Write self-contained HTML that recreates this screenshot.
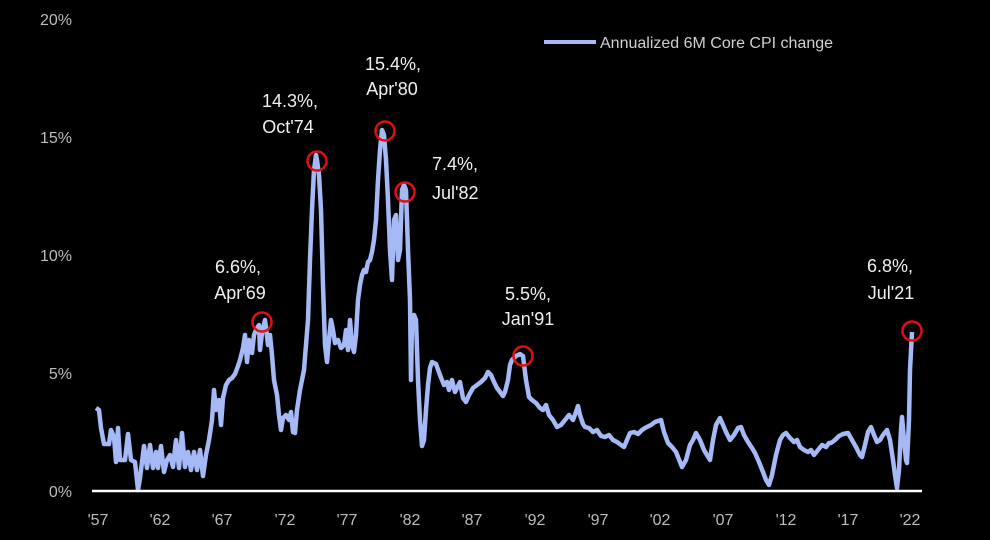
<!DOCTYPE html>
<html><head><meta charset="utf-8"><style>
html,body{margin:0;padding:0;background:#000;}
svg{display:block;}
text{font-family:"Liberation Sans",sans-serif;}
</style></head><body>
<svg width="990" height="540" viewBox="0 0 990 540" xmlns="http://www.w3.org/2000/svg">
<rect width="990" height="540" fill="#000"/>
<g fill="#bdbdbd" font-size="16" text-anchor="end">
<text x="72" y="25">20%</text>
<text x="72" y="143">15%</text>
<text x="72" y="261">10%</text>
<text x="72" y="379">5%</text>
<text x="72" y="497">0%</text>
</g>
<g fill="#bdbdbd" font-size="16" text-anchor="middle">
<text x="98" y="525">'57</text><text x="160" y="525">'62</text><text x="222" y="525">'67</text>
<text x="285" y="525">'72</text><text x="347" y="525">'77</text><text x="410" y="525">'82</text>
<text x="472" y="525">'87</text><text x="535" y="525">'92</text><text x="598" y="525">'97</text>
<text x="660" y="525">'02</text><text x="723" y="525">'07</text><text x="786" y="525">'12</text>
<text x="848" y="525">'17</text><text x="910" y="525">'22</text>
</g>
<polyline fill="none" stroke="#a4b9f5" stroke-width="4.5" stroke-linejoin="round" points="96,408 99,410 101,428 104,444 109,444 111,430 114,437 116,462 118,428 120,460 125,460 128,434 131,460 135,462 138,490 140,478 142,462 144,446 147,468 150,445 153,468 156,452 158,468 161,446 164,472 167,460 170,455 173,467 176,440 179,468 182,433 185,467 188,452 191,470 194,452 197,470 200,450 203,476 206,455 209,440 212,420 214,390 216,410 219,400 221,425 223,398 226,385 229,380 232,378 235,374 238,366 240,360 243,348 245,335 247,362 249,340 252,353 254,335 256,330 259,325 260,350 262,333 265,320 267,336 268,345 270,335 272,355 274,380 277,395 279,415 281,430 283,418 286,415 289,420 291,412 293,432 295,433 297,410 300,390 302,380 304,370 306,345 308,320 310,260 312,210 314,170 316,155 317,160 319,175 321,210 323,285 325,345 327,362 329,340 331,320 333,330 335,343 338,340 341,348 344,345 346,330 348,350 350,320 352,345 354,352 356,335 358,300 360,285 362,275 364,270 366,272 368,262 370,260 372,252 374,240 376,220 378,180 380,150 382,130 384,135 386,160 388,200 390,250 392,280 394,220 396,215 398,260 400,250 402,190 404,185 406,190 408,250 410,300 411,380 412,320 414,315 416,320 418,380 420,420 422,446 424,440 426,410 428,385 430,368 432,362 436,364 440,375 444,385 447,382 449,390 452,380 455,392 458,386 460,382 463,398 466,402 469,395 473,388 477,385 481,382 485,378 488,372 491,375 494,382 497,388 500,392 503,396 505,392 508,380 510,365 512,360 516,356 520,354 523,356 526,380 529,397 532,400 536,403 540,408 543,410 546,405 549,415 553,420 557,427 561,425 565,420 569,415 573,420 576,412 578,406 580,415 583,424 585,427 589,428 593,432 597,430 601,436 605,437 609,435 613,440 617,442 621,445 624,447 627,440 630,433 634,432 638,434 642,430 645,428 647,427 651,425 655,422 658,421 661,420 664,432 668,443 672,447 676,452 680,462 682,467 686,460 690,445 693,440 696,433 700,440 704,450 707,455 710,460 713,440 716,425 720,418 723,425 726,432 730,440 734,435 738,428 741,427 744,435 748,442 752,448 755,453 759,462 763,472 766,480 769,485 772,475 776,455 780,440 783,435 786,433 790,438 794,442 797,440 800,447 804,450 808,452 811,450 814,455 818,450 822,445 826,447 829,443 831,443 835,440 839,436 843,434 848,433 852,440 856,447 860,455 862,457 865,445 868,432 871,427 874,435 877,442 880,440 883,435 887,430 890,440 893,460 895,475 897,488 899,470 901,430 902,417 904,440 906,460 907,463 909,420 910,370 912,332"/>
<line x1="92" y1="491" x2="922" y2="491" stroke="#fff" stroke-width="2.5"/>
<g fill="none" stroke="#e01010" stroke-width="2.5">
<circle cx="262" cy="322" r="9.5"/>
<circle cx="317" cy="161" r="9.5"/>
<circle cx="385" cy="131" r="9.5"/>
<circle cx="405" cy="192" r="9.5"/>
<circle cx="523" cy="356" r="9.5"/>
<circle cx="912" cy="331" r="9.5"/>
</g>
<g fill="#f0f0f0" font-size="18" text-anchor="middle">
<text x="238" y="273">6.6%,</text><text x="240" y="299">Apr'69</text>
<text x="290" y="107">14.3%,</text><text x="288" y="133">Oct'74</text>
<text x="393" y="70">15.4%,</text><text x="392" y="95">Apr'80</text>
<text x="528" y="300">5.5%,</text><text x="528" y="325">Jan'91</text>
<text x="890" y="272">6.8%,</text><text x="891" y="299">Jul'21</text>
</g>
<g fill="#f0f0f0" font-size="18">
<text x="432" y="170">7.4%,</text><text x="432" y="199">Jul'82</text>
</g>
<line x1="544" y1="42" x2="596" y2="42" stroke="#a4b9f5" stroke-width="4"/>
<text x="600" y="48" fill="#d0d0d0" font-size="16">Annualized 6M Core CPI change</text>
</svg>
</body></html>
